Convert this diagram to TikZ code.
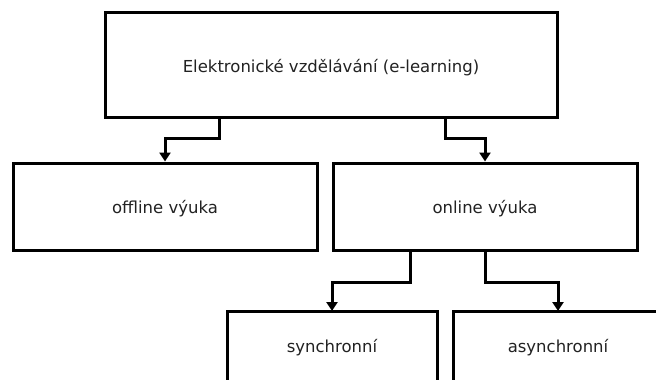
\documentclass[tikz,border=0pt]{standalone}
\usepackage{fontspec}
\setmainfont{DejaVu Sans}
\usetikzlibrary{arrows.meta}
\definecolor{txt}{HTML}{222222}
\begin{document}
\begin{tikzpicture}[x=1pt,y=-1pt,
  lbl/.style={text=txt,font=\fontsize{16.5}{18}\selectfont},
  box/.style={draw=black,line width=3pt,fill=white,inner sep=0pt,lbl,text height=14pt,text depth=0pt},
  conn/.style={line width=3pt,line join=miter,-{Triangle[length=9pt,width=11pt]}}]
\clip (0,0) rectangle (656,380);
\useasboundingbox (0,0) rectangle (656,380);
\node[box,minimum width=452pt,minimum height=105pt,text height=16pt] (top) at (331,64.5) {Elektronické vzdělávání (e-learning)};
\node[box,minimum width=304pt,minimum height=87pt] (off) at (165,206.5) {offline výuka};
\node[box,minimum width=304pt,minimum height=87pt] (on) at (485,206.5) {online výuka};
\draw[box] (227,311) rectangle (437,390);
\draw[box] (453,311) rectangle (663,390);
\coordinate (syn) at (332,311);
\coordinate (asyn) at (558,311);
\node[lbl,anchor=base] (syntxt) at (332,352.5) {synchronní};
\node[lbl,anchor=base] (asyntxt) at (558,352) {asynchronní};
\draw[conn] ([xshift=-112pt]top.south) -- ++(0,20) -| (off.north);
\draw[conn] ([xshift=114pt]top.south) -- ++(0,20) -| (on.north);
\draw[conn] ([xshift=-75pt]on.south) -- ++(0,31) -| (syn);
\draw[conn] (on.south) -- ++(0,31) -| (asyn);
\end{tikzpicture}
\end{document}
